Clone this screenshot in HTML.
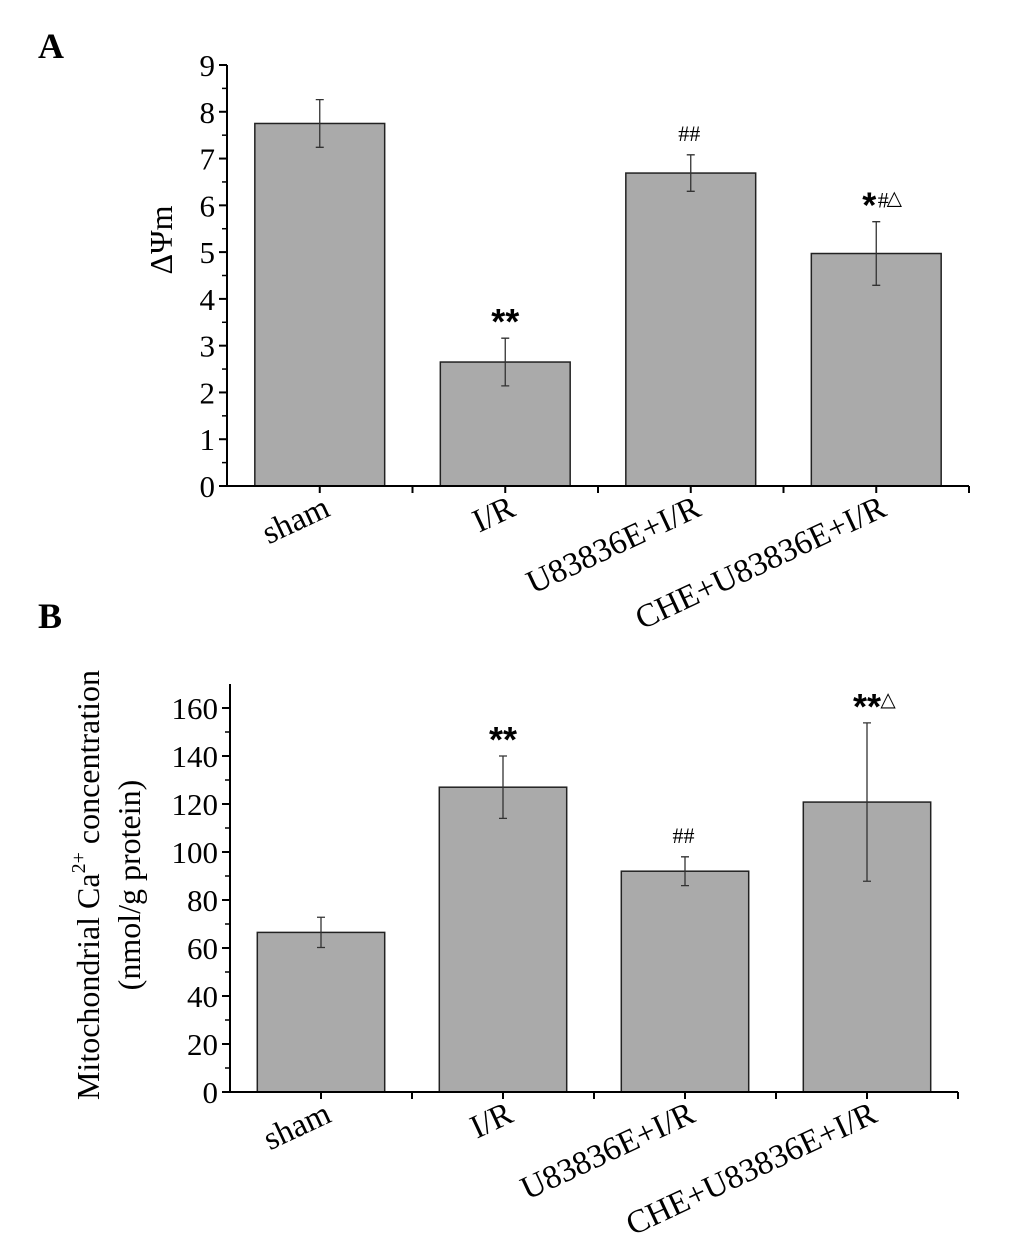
<!DOCTYPE html>
<html><head><meta charset="utf-8"><style>
html,body{margin:0;padding:0;background:#fff;}
svg{display:block;font-family:"Liberation Serif",serif;}
</style></head><body>
<svg id="fig" width="1033" height="1241" viewBox="0 0 1033 1241" xmlns="http://www.w3.org/2000/svg">
<text x="38" y="58" font-size="36" font-weight="bold">A</text>
<text x="38" y="628" font-size="36" font-weight="bold">B</text>
<g id="chartA"></g>
<g id="chartB"></g>
</svg>
<script>
const categories = ["sham", "I/R", "U83836E+I/R", "CHE+U83836E+I/R"];
const valuesA = [7.75, 2.65, 6.69, 4.97];
const errA = [0.51, 0.51, 0.39, 0.68];
const marksA = ["", "**", "##", "*#\u25B3"];
const ticksA = [0,1,2,3,4,5,6,7,8,9];
const valuesB = [66.5, 127, 92, 120.8];
const errB = [6.3, 13, 6, 33];
const marksB = ["**", "##", "**\u25B3"];
const marksBIdx = [1, 2, 3];
const ticksB = [0,20,40,60,80,100,120,140,160];

const NS = "http://www.w3.org/2000/svg";
function mk(parent, tag, attrs){const e=document.createElementNS(NS,tag);for(const k in attrs)e.setAttribute(k,attrs[k]);parent.appendChild(e);return e;}

function drawChart(g, cfg){
  const {x0,x1,y0,yTop,vmin,vmax,vals,errs,ticks,minorStep} = cfg;
  const ys = v => y0 - (v - vmin)/(vmax - vmin)*(y0 - yTop);
  const band = (x1-x0)/categories.length;
  const xc = i => x0 + band*(i+0.5);
  const bw = band*0.7;
  vals.forEach((v,i)=>{
    const r = mk(g,'rect',{x:xc(i)-bw/2,y:ys(v),width:bw,height:y0-ys(v),fill:'#aaaaaa',stroke:'#222','stroke-width':1.5});
    
    
    const e = mk(g,'path',{d:`M${xc(i)} ${ys(v+errs[i])}V${ys(v-errs[i])}M${xc(i)-4} ${ys(v+errs[i])}h8M${xc(i)-4} ${ys(v-errs[i])}h8`,stroke:'#333','stroke-width':1.3,fill:'none'});
    
    
  });
  const ax = mk(g,'path',{d:`M${x0} ${cfg.axisTop}V${y0}H${x1}`,stroke:'#000','stroke-width':2,fill:'none'});
  
  
  ticks.forEach(t=>{
    mk(g,'line',{x1:x0-8,x2:x0,y1:ys(t),y2:ys(t),stroke:'#000','stroke-width':2});
    const lb = mk(g,'text',{x:x0-12,y:ys(t)+11,'font-size':31,'text-anchor':'end'});
    lb.textContent = t;
    
    
  });
  for(let v=vmin+minorStep; v<cfg.vTopAxis; v+=minorStep*2){
    mk(g,'line',{x1:x0-5,x2:x0,y1:ys(v),y2:ys(v),stroke:'#000','stroke-width':1.5});
  }
  for(let k=1;k<=categories.length*2;k++){
    mk(g,'line',{x1:x0+band*k/2,x2:x0+band*k/2,y1:y0,y2:y0+7,stroke:'#000','stroke-width':2});
  }
  categories.forEach((c,i)=>{
    const tx = xc(i)+12, ty = y0+29;
    const l = mk(g,'text',{x:tx,y:ty,'font-size':33,'text-anchor':'end',transform:`rotate(-25 ${tx} ${ty})`});
    l.textContent = c;
    
    
  });
  return {ys,xc};
}
function addMark(g, x, y, txt){
  const t = mk(g,'text',{x:x-7,y:y,'text-anchor':'middle'});
  let html='';
  for(const ch of txt){
    if(ch==='*') html+=`<tspan font-family="Liberation Sans,sans-serif" font-weight="bold" font-size="36" y="${y+10}">*</tspan>`;
    else if(ch==='#') html+=`<tspan font-size="22" y="${y}">#</tspan>`;
    else html+=`<tspan font-family="DejaVu Sans,sans-serif" font-size="20" y="${y-3}">${ch}</tspan>`;
  }
  t.innerHTML = html;
  
  
}

const gA = document.getElementById('chartA');
const A = drawChart(gA,{x0:227,x1:969,y0:486,yTop:65,axisTop:65,vmin:0,vmax:9,vTopAxis:9,vals:valuesA,errs:errA,ticks:ticksA,minorStep:0.5});
valuesA.forEach((v,i)=>{ if(marksA[i]) addMark(gA, A.xc(i), A.ys(v+errA[i]) - 14, marksA[i]); });
const ya = mk(gA,'text',{x:0,y:0,'font-size':32,'text-anchor':'middle',transform:'translate(172 240) rotate(-90)'});
ya.textContent = "\u0394\u03A8m";



const gB = document.getElementById('chartB');
const B = drawChart(gB,{x0:230,x1:958,y0:1092,yTop:708,axisTop:684,vmin:0,vmax:160,vTopAxis:170,vals:valuesB,errs:errB,ticks:ticksB,minorStep:10});
marksBIdx.forEach((ci,k)=>{ const m=marksB[k]; addMark(gB, B.xc(ci), B.ys(valuesB[ci]+errB[ci]) - 14, m); });
const yb1 = mk(gB,'text',{x:0,y:0,'font-size':32,'text-anchor':'middle',transform:'translate(99 885) rotate(-90)'});
yb1.innerHTML = 'Mitochondrial Ca<tspan font-size="20" dy="-14">2+</tspan><tspan dy="14"> concentration</tspan>';


const yb2 = mk(gB,'text',{x:0,y:0,'font-size':32,'text-anchor':'middle',transform:'translate(140 885) rotate(-90)'});
yb2.textContent = '(nmol/g protein)';


</script>
</body></html>
